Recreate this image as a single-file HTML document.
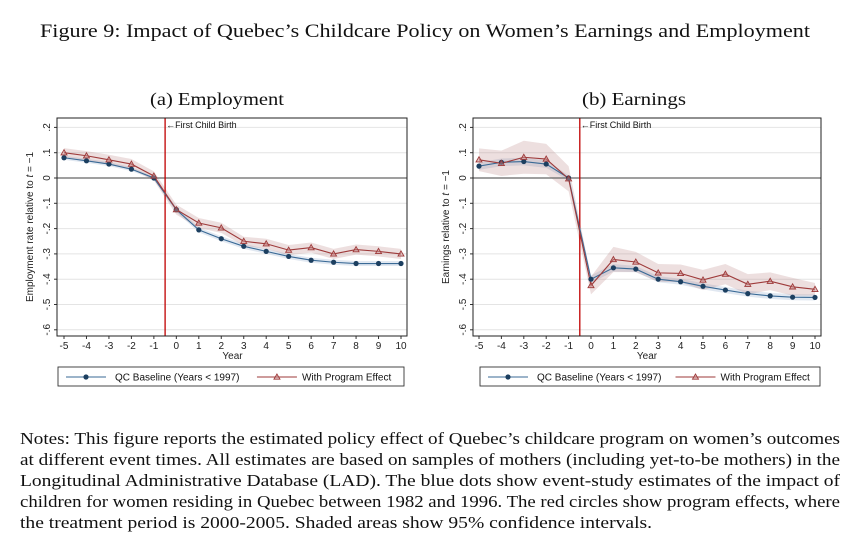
<!DOCTYPE html>
<html><head><meta charset="utf-8"><style>
body{margin:0;background:#fff;width:860px;height:543px;overflow:hidden;position:relative;font-family:"Liberation Sans",sans-serif}
svg{position:absolute;left:0;top:0}
</style></head><body>
<svg id="svg" width="860" height="543">
<text x="40" y="37" textLength="770" lengthAdjust="spacingAndGlyphs" font-family="Liberation Serif,serif" font-size="19" fill="#111">Figure 9: Impact of Quebec’s Childcare Policy on Women’s Earnings and Employment</text>
<g font-family="Liberation Serif,serif" font-size="16.5" fill="#111">
<text x="20" y="444" textLength="820" lengthAdjust="spacingAndGlyphs">Notes: This figure reports the estimated policy effect of Quebec’s childcare program on women’s outcomes</text>
<text x="20" y="465" textLength="820" lengthAdjust="spacingAndGlyphs">at different event times. All estimates are based on samples of mothers (including yet-to-be mothers) in the</text>
<text x="20" y="486" textLength="820" lengthAdjust="spacingAndGlyphs">Longitudinal Administrative Database (LAD). The blue dots show event-study estimates of the impact of</text>
<text x="20" y="507" textLength="820" lengthAdjust="spacingAndGlyphs">children for women residing in Quebec between 1982 and 1996. The red circles show program effects, where</text>
<text x="20" y="528" textLength="632" lengthAdjust="spacingAndGlyphs">the treatment period is 2000-2005. Shaded areas show 95% confidence intervals.</text>
</g>
</svg>
<script>
const years=[-5,-4,-3,-2,-1,0,1,2,3,4,5,6,7,8,9,10];
const yTicks=[0.2,0.1,0,-0.1,-0.2,-0.3,-0.4,-0.5,-0.6];
const yTickLabels=[".2",".1","0","-.1","-.2","-.3","-.4","-.5","-.6"];
const empBase=[0.08,0.068,0.055,0.035,0,-0.125,-0.205,-0.24,-0.27,-0.29,-0.31,-0.325,-0.333,-0.338,-0.338,-0.338];
const empProg=[0.1,0.088,0.072,0.055,0.008,-0.125,-0.178,-0.197,-0.25,-0.26,-0.285,-0.275,-0.3,-0.283,-0.29,-0.3];
const empBaseCI=[0.008,0.008,0.008,0.008,0.005,0.01,0.01,0.01,0.01,0.01,0.01,0.01,0.01,0.01,0.01,0.01];
const empProgCI=[0.018,0.018,0.02,0.02,0.018,0.02,0.02,0.02,0.018,0.02,0.02,0.02,0.02,0.02,0.02,0.02];
const earnBase=[0.047,0.062,0.065,0.055,0,-0.4,-0.355,-0.36,-0.4,-0.41,-0.428,-0.443,-0.457,-0.466,-0.471,-0.472];
const earnProg=[0.072,0.058,0.082,0.075,-0.003,-0.425,-0.322,-0.332,-0.375,-0.377,-0.403,-0.38,-0.42,-0.408,-0.43,-0.44];
const earnBaseCI=[0.015,0.015,0.015,0.015,0.01,0.015,0.015,0.012,0.012,0.012,0.012,0.012,0.012,0.012,0.012,0.012];
const earnProgCI=[0.045,0.05,0.065,0.06,0.05,0.035,0.05,0.04,0.035,0.035,0.04,0.04,0.04,0.035,0.035,0.025];
const NS='http://www.w3.org/2000/svg';
const svg=document.getElementById('svg');
function mk(tag,attrs,parent){const e=document.createElementNS(NS,tag);for(const k in attrs)e.setAttribute(k,attrs[k]);(parent||svg).appendChild(e);return e;}
function panel(cfg){
  const g=mk('g',{});
  
  
  const L=cfg.left,R=cfg.right,T=118,B=336;
  const xs=v=>cfg.x0+(v+5)*(cfg.x1-cfg.x0)/15;
  const ys=v=>178-v*253;
  const t=mk('text',{x:cfg.titleX,y:105,textLength:cfg.titleW,lengthAdjust:'spacingAndGlyphs','font-family':'Liberation Serif,serif','font-size':'18',fill:'#111'},g);
  t.textContent=cfg.title;
  
  
  yTicks.forEach((v,i)=>{
    if(v!==0){const gl=mk('line',{x1:L,x2:R,y1:ys(v),y2:ys(v),stroke:'#e4e4e4','stroke-width':1},g);
    
    }
    mk('line',{x1:L-3,x2:L,y1:ys(v),y2:ys(v),stroke:'#333'},g);
    const tl=mk('text',{x:L-7,y:ys(v),'font-size':'10','fill':'#222','text-anchor':'middle',transform:`rotate(-90 ${L-7} ${ys(v)})`},g);
    tl.textContent=yTickLabels[i];
    
    
  });
  years.forEach(v=>{
    mk('line',{x1:xs(v),x2:xs(v),y1:B,y2:B+3,stroke:'#333'},g);
    const tl=mk('text',{x:xs(v),y:B+13,'font-size':'10',fill:'#222','text-anchor':'middle'},g);
    tl.textContent=v;
    
    
  });
  const yt=mk('text',{x:L-24,y:(T+B)/2,'font-size':'10','fill':'#222','text-anchor':'middle',transform:`rotate(-90 ${L-24} ${(T+B)/2})`},g);
  yt.innerHTML=cfg.ylabel;
  
  
  const xt=mk('text',{x:(xs(-5)+xs(10))/2,y:B+23,'font-size':'10',fill:'#222','text-anchor':'middle'},g);
  xt.textContent='Year';
  
  
  function band(vals,ci,fill,name){
    let d='M'+years.map((y,i)=>xs(y)+','+ys(vals[i]+ci[i])).join('L');
    d+='L'+years.slice().reverse().map((y,j)=>{const i=years.length-1-j;return xs(y)+','+ys(vals[i]-ci[i]);}).join('L')+'Z';
    const p=mk('path',{d,fill,stroke:'none'},g);
    
    
  }
  band(cfg.base,cfg.baseCI,'rgba(170,190,215,0.35)','baseline-ci-band');
  band(cfg.prog,cfg.progCI,'rgba(175,110,110,0.22)','program-ci-band');
  mk('line',{x1:L,x2:R,y1:ys(0),y2:ys(0),stroke:'#666','stroke-width':1.2},g);
  const vx=(xs(-1)+xs(0))/2;
  const vl=mk('line',{x1:vx,x2:vx,y1:T,y2:B,stroke:'#c00000','stroke-width':1.3},g);
  
  
  const an=mk('text',{x:vx+1,y:T+10,'font-size':'9','fill':'#111'},g);
  an.textContent='←First Child Birth';
  
  
  const bl=mk('polyline',{points:years.map((y,i)=>xs(y)+','+ys(cfg.base[i])).join(' '),fill:'none',stroke:'#3a6a96','stroke-width':1.1},g);
  
  
  const rl=mk('polyline',{points:years.map((y,i)=>xs(y)+','+ys(cfg.prog[i])).join(' '),fill:'none',stroke:'#9e3a3a','stroke-width':1.1},g);
  
  
  years.forEach((y,i)=>{
    const c=mk('circle',{cx:xs(y),cy:ys(cfg.base[i]),r:2.6,fill:'#1c3f60'},g);
    
    
    const px=xs(y),py=ys(cfg.prog[i]);
    const tr=mk('polygon',{points:`${px},${py-3} ${px-3},${py+2.2} ${px+3},${py+2.2}`,fill:'rgba(200,140,140,0.5)',stroke:'#9e3a3a','stroke-width':0.9},g);
    
    
  });
  mk('rect',{x:L,y:T,width:R-L,height:B-T,fill:'none',stroke:'#222','stroke-width':1},g);
  const lg=mk('g',{},g);
  
  
  const lx=cfg.legL,lw=cfg.legR-cfg.legL;
  mk('rect',{x:lx,y:367,width:lw,height:19,fill:'#fff',stroke:'#333','stroke-width':0.9},lg);
  mk('line',{x1:lx+8,x2:lx+48,y1:377,y2:377,stroke:'#3a6a96','stroke-width':1.1},lg);
  mk('circle',{cx:lx+28,cy:377,r:2.6,fill:'#1c3f60'},lg);
  const t1=mk('text',{x:lx+57,y:380.5,'font-size':'10',fill:'#111'},lg);
  t1.textContent='QC Baseline (Years < 1997)';
  
  
  const m=lx+lw*0.575;
  mk('line',{x1:m,x2:m+40,y1:377,y2:377,stroke:'#9e3a3a','stroke-width':1.1},lg);
  mk('polygon',{points:`${m+20},374 ${m+17},379.2 ${m+23},379.2`,fill:'rgba(200,140,140,0.5)',stroke:'#9e3a3a','stroke-width':0.9},lg);
  const t2=mk('text',{x:m+45,y:380.5,'font-size':'10',fill:'#111'},lg);
  t2.textContent='With Program Effect';
  
  
}
panel({name:'employment-panel',title:'(a) Employment',titleX:150,titleW:134,left:57,right:407,x0:64,x1:401,legL:58,legR:404,
  ylabel:'Employment rate relative to <tspan font-style="italic">t</tspan> = −1',base:empBase,prog:empProg,baseCI:empBaseCI,progCI:empProgCI});
panel({name:'earnings-panel',title:'(b) Earnings',titleX:582,titleW:104,left:473,right:821,x0:479,x1:815,legL:480,legR:820,
  ylabel:'Earnings relative to <tspan font-style="italic">t</tspan> = −1',base:earnBase,prog:earnProg,baseCI:earnBaseCI,progCI:earnProgCI});
</script>
</body></html>
